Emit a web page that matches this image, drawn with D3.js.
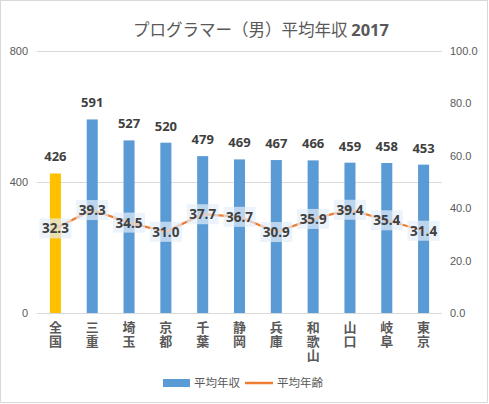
<!DOCTYPE html>
<html><head><meta charset="utf-8">
<script src="https://cdn.jsdelivr.net/npm/d3@7"></script>
<style>body{margin:0;background:#fff;}svg{display:block;font-family:"Noto Sans CJK JP","Noto Sans",sans-serif;}</style>
</head><body>
<svg id="c" width="489" height="404"></svg>
<script>
const categories = ["全国","三重","埼玉","京都","千葉","静岡","兵庫","和歌山","山口","岐阜","東京"];
const income = [426,591,527,520,479,469,467,466,459,458,453];
const age = [32.3,39.3,34.5,31.0,37.7,36.7,30.9,35.9,39.4,35.4,31.4];
const leftTicks = [0,400,800];
const rightTicks = [0,20,40,60,80,100];
const titleMain = "プログラマー（男）平均年収 ";
const titleYear = "2017";
const legendLabels = ["平均年収","平均年齢"];

const svg = d3.select("#c");
svg.append("rect").attr("x",0.5).attr("y",0.5).attr("width",487).attr("height",402)
  .attr("fill","#fff").attr("stroke","#d9d9d9");

const L=37,R=442,T=51,B=313;
const x = d3.scaleBand().domain(categories).range([L,R]).paddingInner(0.7).paddingOuter(0.35);
const y = d3.scaleLinear().domain([0,800]).range([B,T]);
const y2 = d3.scaleLinear().domain([0,100]).range([B,T]);

const tt = svg.append("text").attr("x",261).attr("y",36).attr("text-anchor","middle")
  .attr("font-size",16.5).attr("fill","#595959");
tt.append("tspan").text(titleMain);
tt.append("tspan").attr("font-weight","bold").attr("font-family","Open Sans, sans-serif").text(titleYear);

// gridlines
svg.append("g").selectAll("line").data(leftTicks).join("line")
  .attr("x1",L).attr("x2",R).attr("y1",d=>y(d)+0.5).attr("y2",d=>y(d)+0.5)
  .attr("stroke","#d9d9d9");
svg.append("g").selectAll("text").data(leftTicks).join("text")
  .attr("x",28).attr("y",d=>y(d)+4).attr("text-anchor","end")
  .attr("font-size",11).attr("fill","#595959").attr("font-family","Liberation Sans, Arial").text(d=>d);
svg.append("g").selectAll("text").data(rightTicks).join("text")
  .attr("x",450).attr("y",d=>y2(d)+4).attr("text-anchor","start")
  .attr("font-size",11).attr("fill","#595959").attr("font-family","Liberation Sans, Arial").text(d=>d.toFixed(1));

// bars
svg.append("g").selectAll("rect").data(income).join("rect")
  .attr("x",(d,i)=>x(categories[i])).attr("width",x.bandwidth())
  .attr("y",d=>y(d)).attr("height",d=>B-y(d))
  .attr("fill",(d,i)=>i===0?"#ffc000":"#5b9bd5");
svg.append("g").selectAll("text").data(income).join("text")
  .attr("x",(d,i)=>x(categories[i])+x.bandwidth()/2).attr("y",d=>y(d)-12)
  .attr("text-anchor","middle").attr("font-size",13).attr("font-weight","bold")
  .attr("fill","#404040").attr("font-family","Open Sans, Noto Sans, sans-serif").text(d=>d);

// line
const cx = (i)=>x(categories[i])+x.bandwidth()/2;
svg.append("path").datum(age)
  .attr("d",d3.line().x((d,i)=>cx(i)).y(d=>y2(d)))
  .attr("fill","none").attr("stroke","#ed7d31").attr("stroke-width",2.25);

// age labels
const lg = svg.append("g").selectAll("g").data(age).join("g")
  .attr("transform",(d,i)=>`translate(${cx(i)},${y2(d)})`);
lg.append("rect").attr("x",-16).attr("y",-10).attr("width",32).attr("height",20)
  .attr("fill","#e4eef9").attr("fill-opacity",0.7);
lg.append("text").attr("y",5).attr("text-anchor","middle").attr("font-size",13.5)
  .attr("font-weight","bold").attr("fill","#404040").attr("font-family","Open Sans, Noto Sans, sans-serif")
  .text(d=>d.toFixed(1));

// category labels vertical
svg.append("g").selectAll("text").data(categories).join("text")
  .attr("x",(d,i)=>cx(i)).attr("y",321)
  .style("writing-mode","vertical-rl").style("text-orientation","upright")
  .attr("letter-spacing",1)
  .attr("font-size",13).attr("font-weight","bold").attr("fill","#595959").text(d=>d);

// legend
svg.append("rect").attr("x",163).attr("y",379).attr("width",27).attr("height",8).attr("fill","#5b9bd5");
svg.append("text").attr("x",194).attr("y",387).attr("font-size",11.5).attr("fill","#595959").text(legendLabels[0]);
svg.append("line").attr("x1",245).attr("x2",273).attr("y1",383).attr("y2",383).attr("stroke","#ed7d31").attr("stroke-width",2.5);
svg.append("text").attr("x",277).attr("y",387).attr("font-size",11.5).attr("fill","#595959").text(legendLabels[1]);
</script>
</body></html>
